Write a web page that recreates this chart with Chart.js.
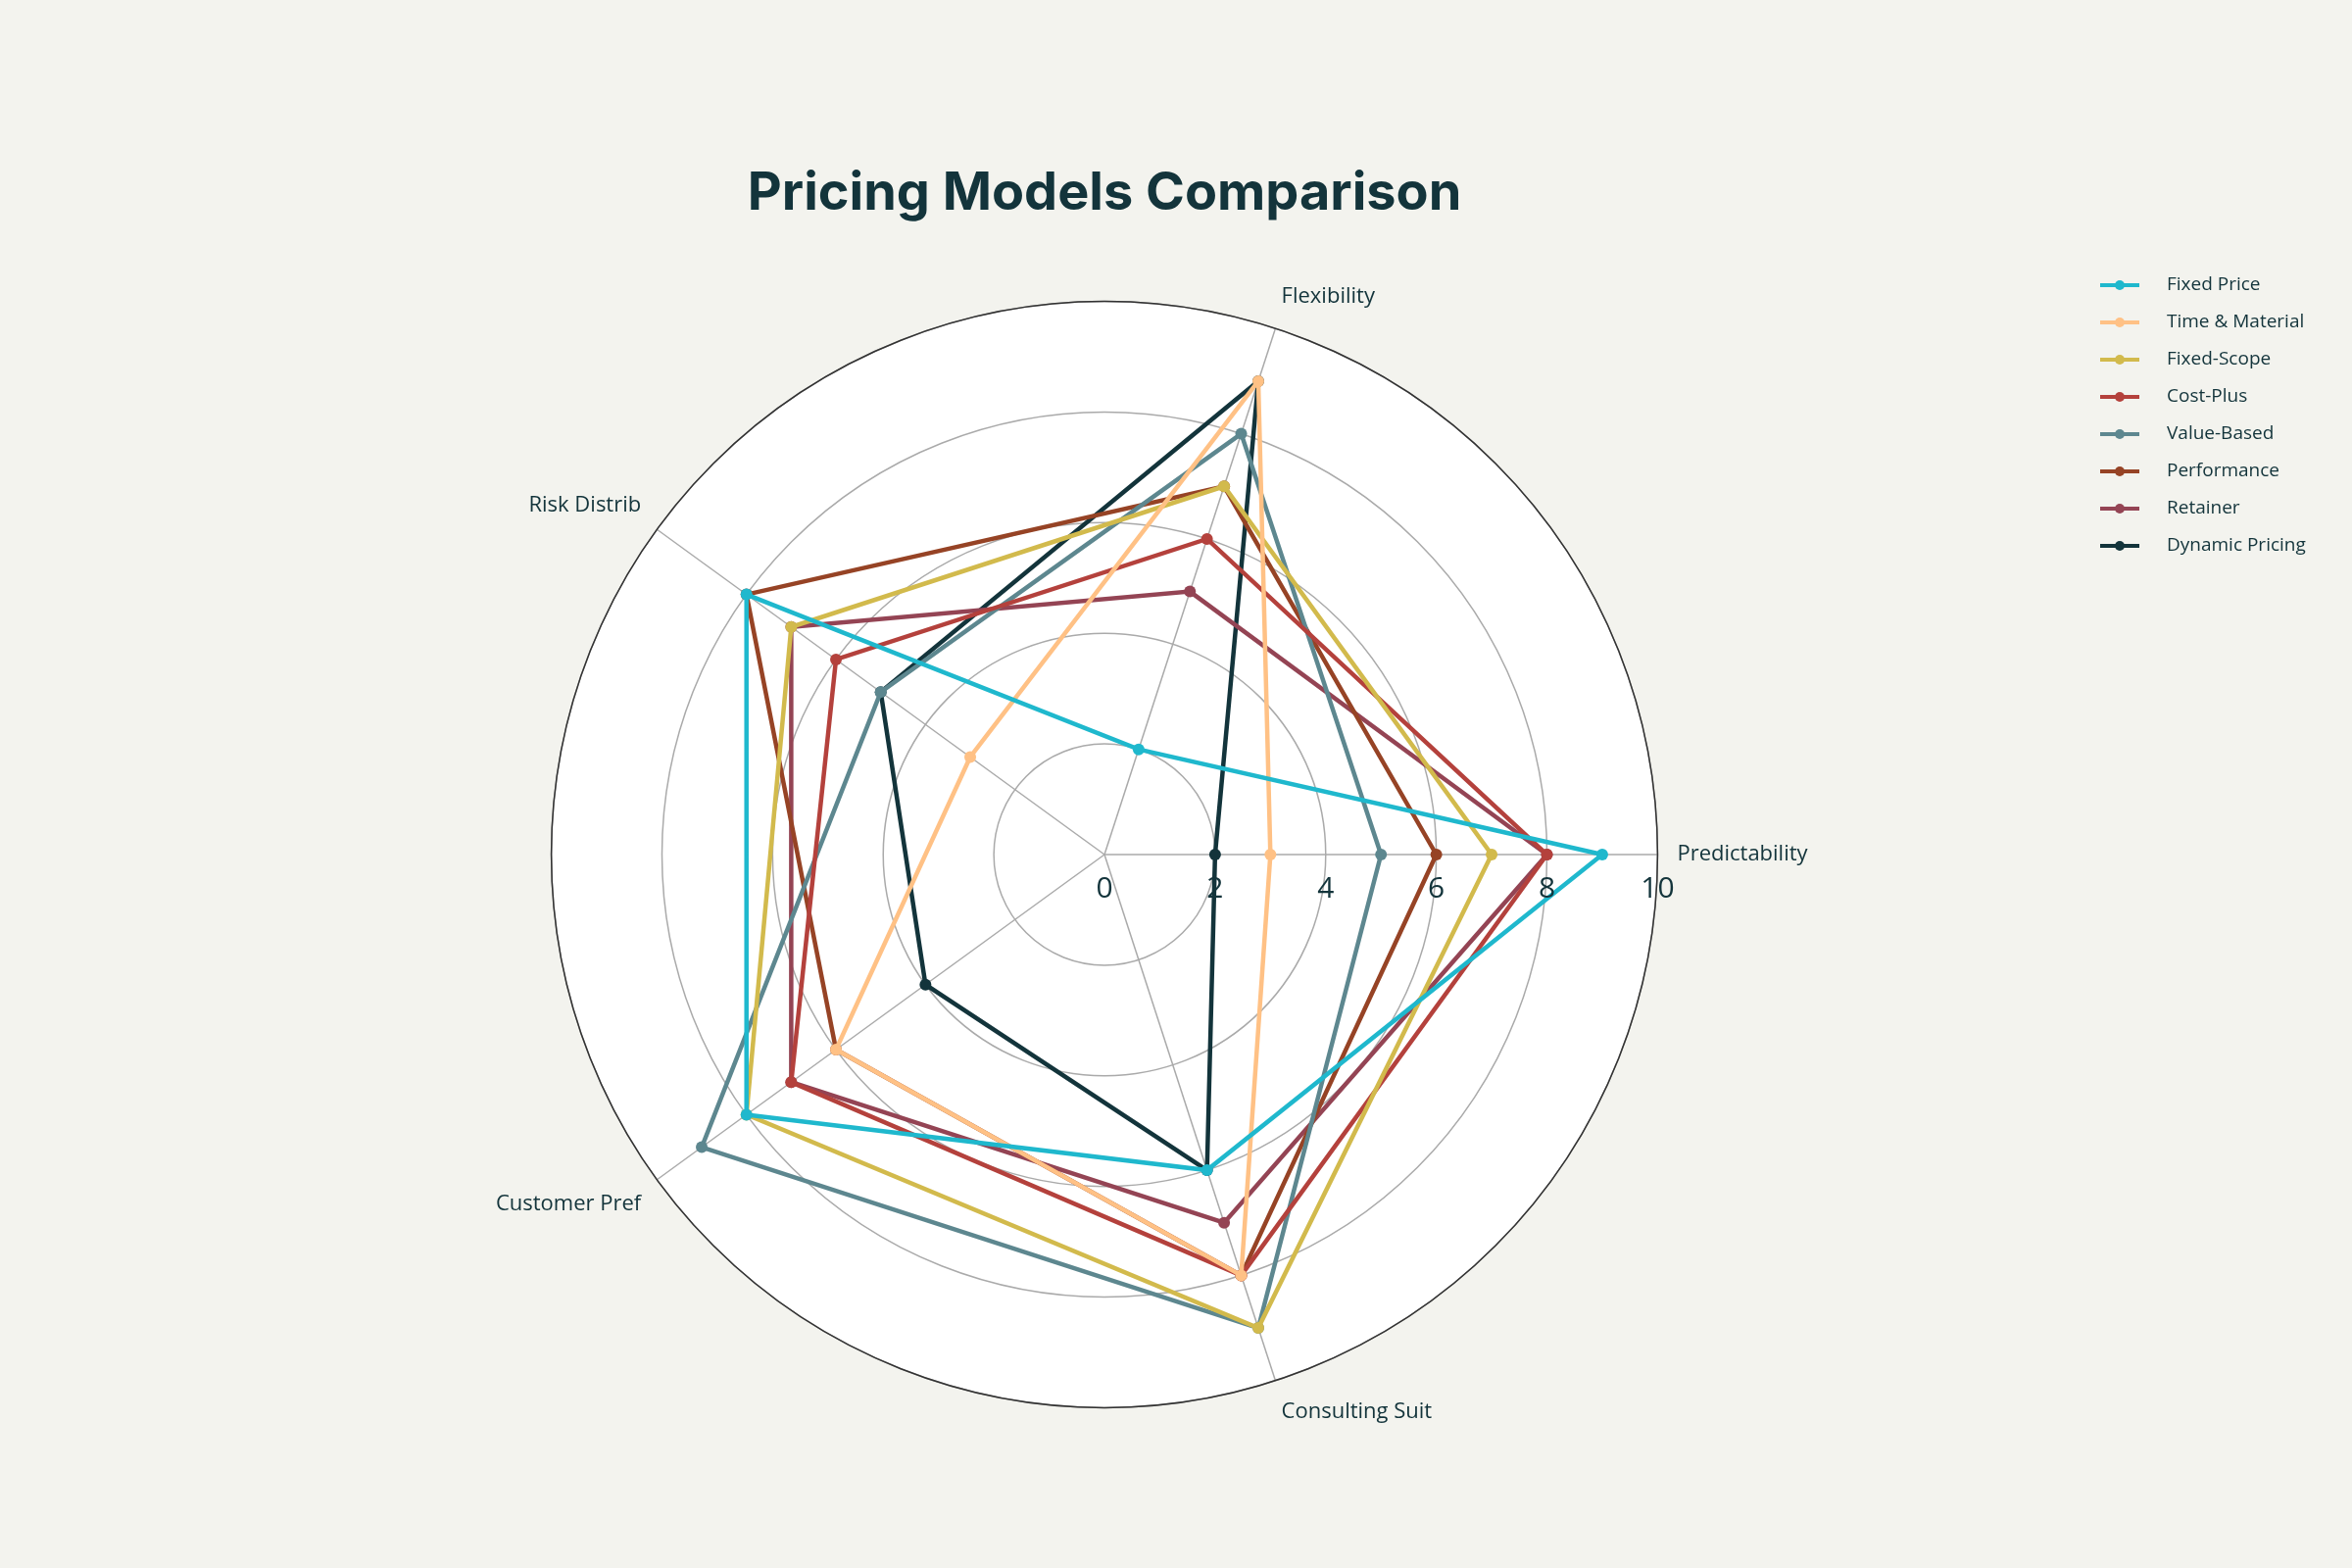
<!DOCTYPE html>
<html><head><meta charset="utf-8">
<script src="https://cdn.jsdelivr.net/npm/chart.js@4"></script>
<style>html,body{margin:0;background:#F3F3EE;}#w{width:2400px;height:1600px;}</style>
</head><body><div id="w"><canvas id="c"></canvas></div>
<script>
const axes = ["Predictability","Consulting Suit","Customer Pref","Risk Distrib","Flexibility"];
const seriesNames = ["Fixed Price","Time & Material","Fixed-Scope","Cost-Plus","Value-Based","Performance","Retainer","Dynamic Pricing"];
const fixedPrice   = [9,6,8,8,2];
const timeMaterial = [3,8,6,3,9];
const fixedScope   = [7,9,8,7,7];
const costPlus     = [8,8,7,6,6];
const valueBased   = [5,9,9,5,8];
const performance  = [6,8,6,8,7];
const retainer     = [8,7,7,7,5];
const dynamicPricing = [2,6,4,5,9];
const tickLabels = ["0","2","4","6","8","10"];
const colors = ["#1FB8CD","#FFC185","#D2BA4C","#B4413C","#5D878F","#964325","#944454","#13343B"];
const values = [fixedPrice,timeMaterial,fixedScope,costPlus,valueBased,performance,retainer,dynamicPricing];

const bgPlugin = {id:'bg', beforeDraw(chart){
  const s=chart.scales.r, ctx=chart.ctx;
  ctx.save(); ctx.fillStyle='#F3F3EE'; ctx.fillRect(0,0,chart.width,chart.height);
  ctx.beginPath(); ctx.arc(s.xCenter,s.yCenter,s.drawingArea,0,Math.PI*2); ctx.fillStyle='#fff'; ctx.fill(); ctx.restore();
}, afterDatasetsDraw(chart){
  const s=chart.scales.r, ctx=chart.ctx;
  ctx.save(); ctx.fillStyle='#13343B'; ctx.font='30px "Open Sans", sans-serif'; ctx.textAlign='center'; ctx.textBaseline='top';
  tickLabels.forEach(t=>{const d=s.getDistanceFromCenterForValue(+t); ctx.fillText(t,s.xCenter+d,s.yCenter+20);});
  ctx.beginPath(); ctx.arc(s.xCenter,s.yCenter,s.drawingArea,0,Math.PI*2); ctx.strokeStyle='#333'; ctx.lineWidth=1.5; ctx.stroke();
  // legend
  ctx.font='19px "Open Sans", sans-serif'; ctx.textAlign='left'; ctx.textBaseline='middle';
  chart.data.datasets.forEach((d,i)=>{
    const y=291+i*38, x=2143;
    ctx.strokeStyle=d.borderColor; ctx.lineWidth=4; ctx.beginPath(); ctx.moveTo(x,y); ctx.lineTo(x+40,y); ctx.stroke();
    ctx.fillStyle=d.borderColor; ctx.beginPath(); ctx.arc(x+20,y,5,0,Math.PI*2); ctx.fill();
    ctx.fillStyle='#13343B'; ctx.fillText(d.label,x+68,y);
  });
  ctx.restore();
}};

new Chart(document.getElementById('c'),{
  type:'radar',
  data:{labels:axes, datasets: seriesNames.map((n,i)=>({label:n,data:values[i],borderColor:colors[i],backgroundColor:colors[i],
    fill:false,borderWidth:4.5,pointRadius:6,pointBackgroundColor:colors[i],pointBorderWidth:0}))},
  options:{responsive:true,maintainAspectRatio:false,animation:false,
    layout:{padding:{left:40,right:186,top:100,bottom:145}},
    plugins:{
      title:{display:true,text:'Pricing Models Comparison',color:'#13343B',font:{size:54,weight:'bold',family:'Inter'},padding:{top:65,bottom:60}},
      legend:{display:false},
      tooltip:{enabled:false}},
    scales:{r:{min:0,max:10,startAngle:90,
      ticks:{display:false,stepSize:2},
      grid:{circular:true,color:'#aaa',lineWidth:1.5},
      angleLines:{color:'#aaa',lineWidth:1.5},
      pointLabels:{color:'#13343B',font:{size:22,family:'"Open Sans"'},padding:20}}}}
  ,plugins:[bgPlugin]});
</script></body></html>
